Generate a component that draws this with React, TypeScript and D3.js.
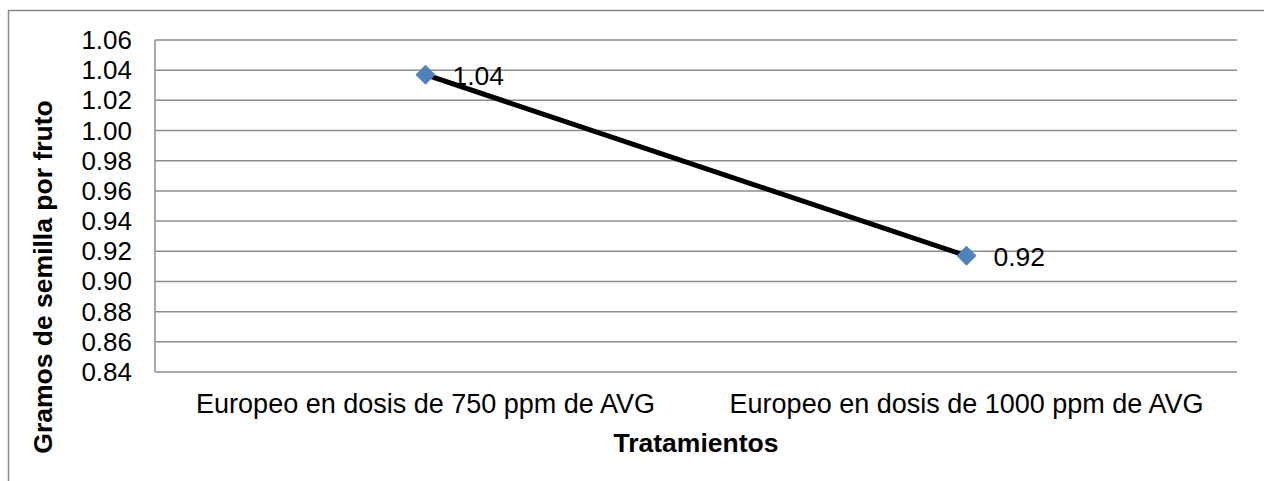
import React from "react";
import * as d3 from "d3";

const categories = [
  "Europeo en dosis de 750 ppm de AVG",
  "Europeo en dosis de 1000 ppm de AVG",
];
const values = [1.037, 0.917];
const dataLabels = ["1.04", "0.92"];
const yTicks = [0.84, 0.86, 0.88, 0.9, 0.92, 0.94, 0.96, 0.98, 1.0, 1.02, 1.04, 1.06];

export default function App() {
  const W = 1264, H = 481;
  const left = 155, right = 1237, top = 40, bottom = 372;
  const x = d3.scaleBand<string>().domain(categories).range([left, right]);
  const y = d3.scaleLinear().domain([0.84, 1.06]).range([bottom, top]);
  const pts = categories.map((c, i) => [x(c)! + x.bandwidth() / 2, y(values[i])] as [number, number]);
  const line = d3.line()(pts)!;
  const font = "Liberation Sans, Arial, sans-serif";
  return (
    <svg width={W} height={H} style={{ position: "absolute", left: 0, top: 0 }}>
      <rect x={8.5} y={10.5} width={1300} height={500} fill="white" stroke="#898989" strokeWidth={1.5} />
      {yTicks.map((t) => (
        <line key={t} x1={left} x2={right} y1={y(t)} y2={y(t)} stroke="#8c8c8c" strokeWidth={1.5} />
      ))}
      <line x1={left} x2={left} y1={top} y2={bottom} stroke="#8c8c8c" strokeWidth={1.5} />
      {yTicks.map((t) => (
        <text key={t} x={132} y={y(t) + 9} textAnchor="end" fontFamily={font} fontSize={26} fill="#000">
          {t.toFixed(2)}
        </text>
      ))}
      {categories.map((c) => (
        <text key={c} x={x(c)! + x.bandwidth() / 2} y={413} textAnchor="middle" fontFamily={font} fontSize={27} fill="#000">
          {c}
        </text>
      ))}
      <path d={line} fill="none" stroke="#000" strokeWidth={5} />
      {pts.map(([px, py], i) => (
        <g key={i}>
          <path d={`M${px},${py - 10}L${px + 10},${py}L${px},${py + 10}L${px - 10},${py}Z`} fill="#4F81BD" />
          <text x={px + 27} y={py + 10} fontFamily={font} fontSize={26.5} fill="#000">
            {dataLabels[i]}
          </text>
        </g>
      ))}
      <text x={696} y={452} textAnchor="middle" fontFamily={font} fontSize={26.5} fontWeight="bold" fill="#000">
        Tratamientos
      </text>
      <text transform={`translate(52,277) rotate(-90)`} textAnchor="middle" fontFamily={font} fontSize={26.5} fontWeight="bold" fill="#000">
        Gramos de semilla por fruto
      </text>
    </svg>
  );
}
